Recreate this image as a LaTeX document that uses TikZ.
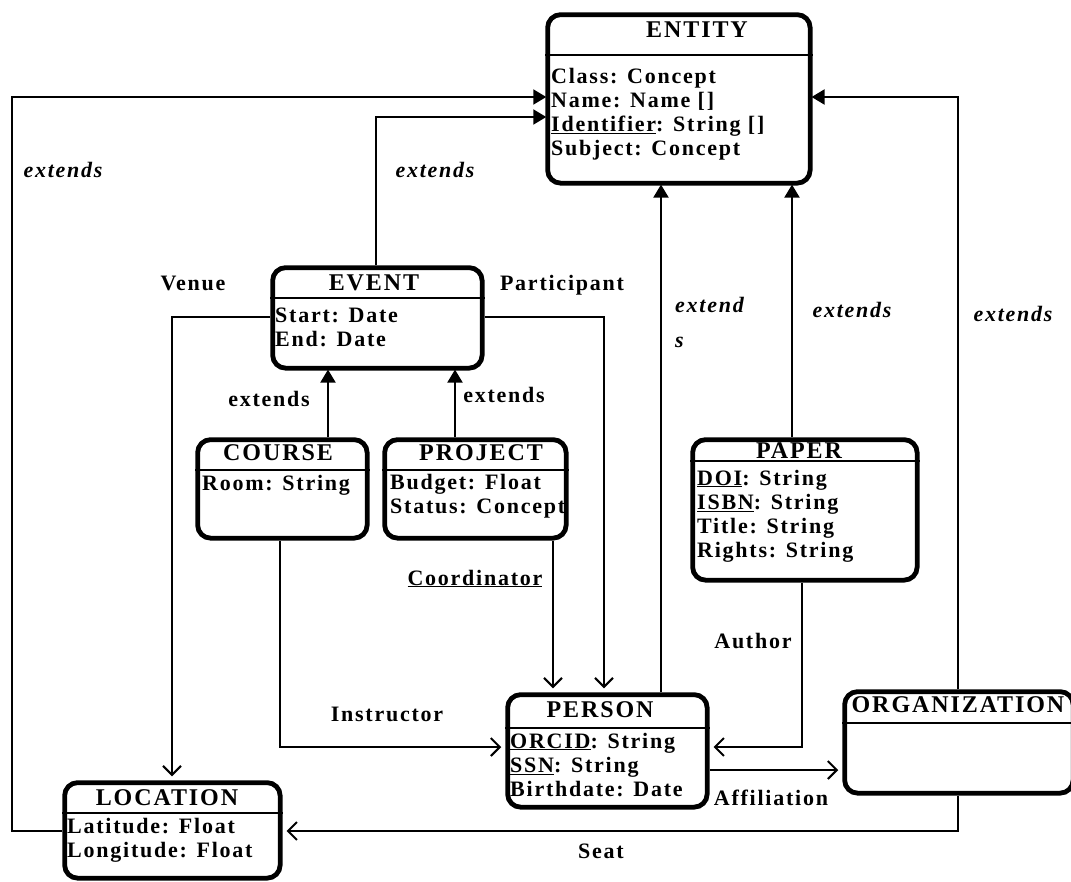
\documentclass[tikz,border=0pt]{standalone}
\usepackage{fontspec}
\setmainfont{Liberation Serif}[LetterSpace=8]
\usetikzlibrary{arrows.meta}
\tikzset{
 classbox/.style={draw, line width=4.8pt, rounded corners=13pt, inner sep=0pt, anchor=north west},
 sepline/.style={line width=1.6pt},
 ctitle/.style={font=\fontsize{24}{28}\selectfont\bfseries, anchor=base, inner sep=0pt},
 cbody/.style={font=\fontsize{22}{24.3}\selectfont\bfseries, anchor=base west, inner sep=0pt},
 lab/.style={font=\fontsize{22}{24}\selectfont\bfseries, anchor=base, inner sep=0pt},
 ilab/.style={lab, font=\fontsize{22}{24}\selectfont\bfseries\itshape},
 conn/.style={line width=2pt},
 ext/.style={conn, -{Triangle[length=13pt,width=15pt]}, shorten >=-1pt},
 assoc/.style={conn, -{Straight Barb[length=9pt,width=18pt]}, shorten >=4pt},
}
\newcommand\rowsof[1]{\begin{tabular}[t]{@{}l@{}}#1\end{tabular}}
\begin{document}
\begin{tikzpicture}[x=1pt,y=-1pt]
\useasboundingbox (0,0) rectangle (1071,881);
\clip (0,0) rectangle (1071,881);

% ENTITY
\node[classbox, minimum width=262.5pt, minimum height=168.5pt] (entity) at (545.25,12.25) {};
\draw[sepline] (entity.west |- 0,55) -- (entity.east |- 0,55);
\node[ctitle] (entityT) at (697,37) {ENTITY};
\node[cbody] (entityB) at (551,83) {\rowsof{Class: Concept\\Name: Name []\\\underline{Identifier}: String []\\Subject: Concept}};

% EVENT
\node[classbox, minimum width=209.5pt, minimum height=100.5pt] (event) at (270.25,265.25) {};
\draw[sepline] (event.west |- 0,298) -- (event.east |- 0,298);
\node[ctitle] (eventT) at (374,290) {EVENT};
\node[cbody] (eventB) at (275,322) {\rowsof{Start: Date\\End: Date}};

% COURSE
\node[classbox, minimum width=169.5pt, minimum height=98.5pt] (course) at (195.25,437.25) {};
\draw[sepline] (course.west |- 0,470) -- (course.east |- 0,470);
\node[ctitle] (courseT) at (278,460) {COURSE};
\node[cbody] (courseB) at (202,490) {\rowsof{Room: String}};

% PROJECT
\node[classbox, minimum width=181.5pt, minimum height=98.5pt] (project) at (382.25,437.25) {};
\draw[sepline] (project.west |- 0,470) -- (project.east |- 0,470);
\node[ctitle] (projectT) at (481,460) {PROJECT};
\node[cbody] (projectB) at (390,489) {\rowsof{Budget: Float\\Status: Concept}};

% PAPER
\node[classbox, minimum width=224.5pt, minimum height=140.5pt] (paper) at (690.25,437.25) {};
\draw[sepline] (paper.west |- 0,461) -- (paper.east |- 0,461);
\node[ctitle] (paperT) at (799,458) {PAPER};
\node[cbody] (paperB) at (697,485) {\rowsof{\underline{DOI}: String\\\underline{ISBN}: String\\Title: String\\Rights: String}};

% PERSON
\node[classbox, minimum width=199.5pt, minimum height=112.5pt] (person) at (505.25,692.25) {};
\draw[sepline] (person.west |- 0,728) -- (person.east |- 0,728);
\node[ctitle] (personT) at (600,717) {PERSON};
\node[cbody] (personB) at (510,748) {\rowsof{\underline{ORCID}: String\\\underline{SSN}: String\\Birthdate: Date}};

% ORGANIZATION
\node[classbox, minimum width=228.5pt, minimum height=101.5pt] (org) at (842.25,689.25) {};
\draw[sepline] (org.west |- 0,723) -- (org.east |- 0,723);
\node[ctitle] (orgT) at (958,712) {ORGANIZATION};

% LOCATION
\node[classbox, minimum width=215.5pt, minimum height=95.5pt] (location) at (62.25,780.25) {};
\draw[sepline] (location.west |- 0,813) -- (location.east |- 0,813);
\node[ctitle] (locationT) at (167,805) {LOCATION};
\node[cbody] (locationB) at (67,833) {\rowsof{Latitude: Float\\Longitude: Float}};

% extends connectors
\draw[ext] (location.west |- 0,831) -| (12,97) -- (entity.west |- 0,97);
\draw[ext] (event.north -| 376,0) |- (entity.west |- 0,117);
\draw[ext] (course.north -| 328,0) -- (event.south -| 328,0);
\draw[ext] (project.north -| 455,0) -- (event.south -| 455,0);
\draw[ext] (person.north -| 661,0) -- (entity.south -| 661,0);
\draw[ext] (paper.north -| 792,0) -- (entity.south -| 792,0);
\draw[ext] (org.north -| 958,0) |- (entity.east |- 0,97);

% associations
\draw[assoc] (event.west |- 0,317) -| (location.north -| 172,0);
\draw[assoc] (event.east |- 0,317) -| (person.north -| 604,0);
\draw[assoc] (project.south -| 553,0) -- (person.north -| 553,0);
\draw[assoc] (course.south -| 280,0) |- (person.west |- 0,747);
\draw[assoc] (paper.south -| 802,0) |- (person.east |- 0,747);
\draw[assoc] (person.east |- 0,770) -- (org.west |- 0,770);
\draw[assoc] (org.south -| 958,0) |- (location.east |- 0,831);

% labels
\node[ilab] (l1) at (63,177) {extends};
\node[ilab] (l2) at (435,177) {extends};
\node[lab] (l3) at (193,290) {Venue};
\node[lab] (l4) at (562,290) {Participant};
\node[lab] (l5) at (269,406) {extends};
\node[lab] (l6) at (504,402) {extends};
\node[ilab, anchor=base west] (l7) at (675,312) {\rowsof{extend\\[11.7pt]s}};
\node[ilab] (l8) at (852,317) {extends};
\node[ilab] (l9) at (1013,321) {extends};
\node[lab] (l10) at (475,585) {\underline{Coordinator}};
\node[lab] (l11) at (753,648) {Author};
\node[lab] (l12) at (387,721) {Instructor};
\node[lab] (l13) at (771,805) {Affiliation};
\node[lab] (l14) at (601,858) {Seat};
\end{tikzpicture}
\end{document}
